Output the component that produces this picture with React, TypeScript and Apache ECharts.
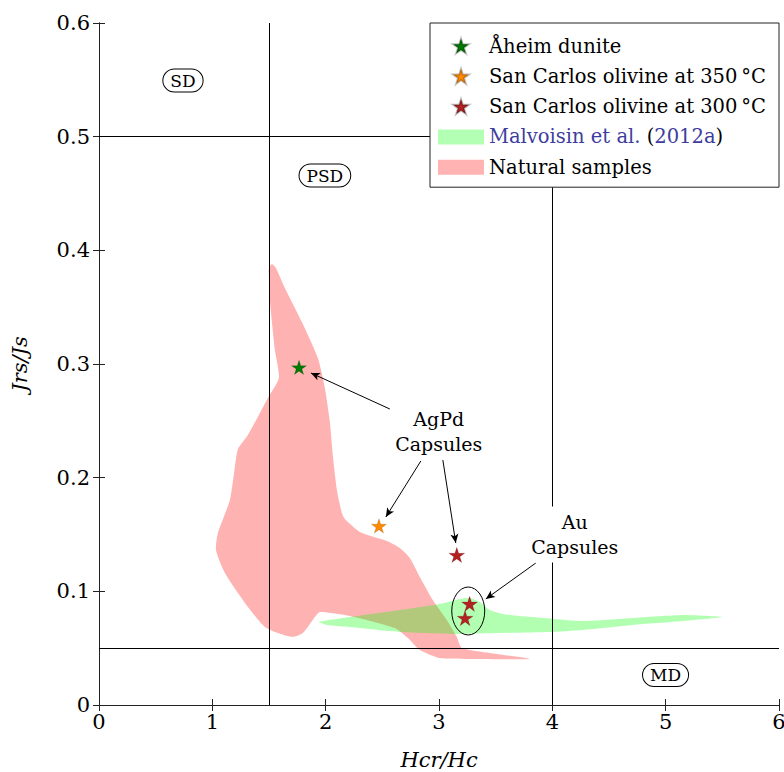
import React, { useEffect, useRef } from 'react';
import * as echarts from 'echarts';

const FONT = '"DejaVu Serif", "Liberation Serif", serif';
const STAR =
  'path://M0,-100L22.45,-30.9L95.1,-30.9L36.3,11.8L58.8,80.9L0,38.2L-58.8,80.9L-36.3,11.8L-95.1,-30.9L-22.45,-30.9Z';

// ---- data ----
const xTicks = [0, 1, 2, 3, 4, 5, 6];
const yTicks = [0, 0.1, 0.2, 0.3, 0.4, 0.5, 0.6];

const aheimPts = [[1.765, 0.297]];
const sc350Pts = [[2.47, 0.1575]];
const sc300Pts = [
  [3.157, 0.132],
  [3.27, 0.089],
  [3.23, 0.0765],
];

// Natural samples envelope (Hcr/Hc, Jrs/Js)
const pinkX = [
  1.526, 1.499, 1.508, 1.552, 1.587, 1.49, 1.314, 1.226, 1.199, 1.155, 1.049, 1.032, 1.111, 1.314,
  1.464, 1.578, 1.711, 1.799, 1.905, 1.949, 2.213, 2.61, 2.725, 2.831, 3.007, 3.36, 3.801, 3.448,
  3.201, 3.157, 3.069, 2.945, 2.831, 2.743, 2.654, 2.54, 2.302, 2.169, 2.143, 2.099, 2.063, 2.037,
  1.993, 1.931, 1.79, 1.64, 1.561,
];
const pinkY = [
  0.388, 0.3845, 0.3563, 0.3123, 0.2877, 0.2701, 0.2375, 0.2252, 0.2094, 0.1803, 0.1513, 0.1364,
  0.1161, 0.0862, 0.0686, 0.0633, 0.0598, 0.0633, 0.0774, 0.0818, 0.0783, 0.0677, 0.0589, 0.0484,
  0.0413, 0.0405, 0.0405, 0.0457, 0.0501, 0.0598, 0.0748, 0.0924, 0.1126, 0.1293, 0.1381, 0.1443,
  0.1522, 0.1636, 0.1689, 0.1891, 0.2199, 0.249, 0.2789, 0.3053, 0.3369, 0.3669, 0.3845,
];

// Malvoisin et al. (2012a) envelope
const greenX = [
  1.94, 2.213, 2.654, 3.007, 3.183, 3.272, 3.36, 3.448, 3.563, 3.827, 4.268, 4.709, 5.15, 5.503,
  5.15, 4.709, 4.268, 3.977, 3.536, 3.122, 2.654, 2.213, 2.011,
];
const greenY = [
  0.073, 0.0774, 0.0836, 0.0889, 0.0933, 0.0941, 0.0906, 0.0836, 0.0801, 0.0774, 0.0739, 0.0765,
  0.0792, 0.0774, 0.0739, 0.0704, 0.066, 0.0642, 0.0633, 0.0625, 0.0642, 0.0686, 0.0704,
];

// domain boundaries
const vLines = [1.5, 4];
const hLines = [0.5, 0.05];

// region labels
const regionNames = ['SD', 'PSD', 'MD'];
const regionPts = [
  [0.741, 0.5494],
  [1.993, 0.4658],
  [4.999, 0.0264],
];

// annotations
const noteTexts = ['AgPd\nCapsules', 'Au\nCapsules'];
const notePts = [
  [2.998, 0.2406],
  [4.198, 0.15],
];
const arrowFrom = [
  [2.566, 0.2604],
  [2.84, 0.2147],
  [3.034, 0.2155],
  [3.854, 0.1249],
];
const arrowTo = [
  [1.87, 0.2921],
  [2.531, 0.1654],
  [3.148, 0.1425],
  [3.413, 0.0933],
];
const ellipseCenter = [[3.258, 0.0827]];

const NAMES = [
  'Åheim dunite',
  'San Carlos olivine at 350\u2009°C',
  'San Carlos olivine at 300\u2009°C',
  'Malvoisin et al. (2012a)',
  'Natural samples',
];

const GREEN = '#007a00';
const ORANGE = '#ff8a00';
const RED = '#b22222';

export default function App() {
  const ref = useRef<HTMLDivElement>(null);
  useEffect(() => {
    if (!ref.current) return;
    const chart = echarts.init(ref.current, null, { renderer: 'svg', width: 784, height: 772 });

    const polygonSeries = (name: string, xs: number[], ys: number[], fill: string, z: number) => ({
      type: 'custom',
      name,
      z,
      silent: true,
      itemStyle: { color: fill },
      data: [[xs[0], ys[0]]],
      renderItem: (_p: any, api: any) => ({
        type: 'polygon',
        shape: {
          points: xs.map((x, i) => api.coord([x, ys[i]])),
          smooth: 0.2,
        },
        style: { fill },
      }),
    });

    const axisCommon = {
      type: 'value',
      axisLine: { show: true, lineStyle: { color: '#222', width: 1 } },
      axisTick: { show: true, inside: true, length: 6, lineStyle: { color: '#222' } },
      splitLine: { show: false },
    };

    const starSeries = (name: string, color: string, size: number, data: number[][]) => ({
      type: 'scatter',
      name,
      z: 5,
      symbol: STAR,
      symbolKeepAspect: true,
      symbolSize: size,
      itemStyle: { color, opacity: 1, borderColor: 'rgba(0,0,0,0.25)', borderWidth: 0.5 },
      emphasis: { disabled: true },
      data,
    });

    const option: any = {
      animation: false,
      backgroundColor: '#fff',
      textStyle: { fontFamily: FONT },
      grid: {
        left: 99,
        right: 5,
        top: 23,
        bottom: 67,
        containLabel: false,
        outerBoundsMode: 'none',
      },
      xAxis: [
        {
          ...axisCommon,
          min: xTicks[0],
          max: xTicks[xTicks.length - 1],
          interval: 1,
          name: 'Hcr/Hc',
          nameLocation: 'middle',
          nameGap: 44,
          nameTextStyle: { fontFamily: FONT, fontSize: 21, fontStyle: 'italic', color: '#000' },
          axisLabel: { fontFamily: FONT, fontSize: 21, color: '#000', margin: 6 },
        },
        {
          ...axisCommon,
          position: 'top',
          min: xTicks[0],
          max: xTicks[xTicks.length - 1],
          interval: 1,
          axisLabel: { show: false },
        },
      ],
      yAxis: [
        {
          ...axisCommon,
          min: yTicks[0],
          max: yTicks[yTicks.length - 1],
          interval: 0.1,
          name: 'Jrs/Js',
          nameLocation: 'middle',
          nameGap: 69,
          nameTextStyle: { fontFamily: FONT, fontSize: 21, fontStyle: 'italic', color: '#000' },
          axisLabel: { fontFamily: FONT, fontSize: 21, color: '#000', margin: 9 },
        },
        {
          ...axisCommon,
          position: 'right',
          min: yTicks[0],
          max: yTicks[yTicks.length - 1],
          interval: 0.1,
          axisLabel: { show: false },
        },
      ],
      legend: {
        right: 5,
        top: 23,
        orient: 'vertical',
        selectedMode: false,
        backgroundColor: '#fff',
        borderColor: '#222',
        borderWidth: 1,
        borderRadius: 0,
        padding: [13, 13, 10, 8],
        itemWidth: 46,
        itemHeight: 15,
        itemGap: 10.3,
        z: 20,
        textStyle: {
          fontFamily: FONT,
          fontSize: 19.5,
          color: '#000',
          lineHeight: 20,
          rich: { b: { fontFamily: FONT, fontSize: 19.5, color: '#3d3d9e', lineHeight: 20 } },
        },
        formatter: (n: string) =>
          n.startsWith('Malvoisin') ? '{b|Malvoisin et al.} ({b|2012a})' : n,
        data: [
          { name: NAMES[0], icon: STAR, itemStyle: { color: GREEN } },
          { name: NAMES[1], icon: STAR, itemStyle: { color: ORANGE } },
          { name: NAMES[2], icon: STAR, itemStyle: { color: RED } },
          { name: NAMES[3], icon: 'rect', itemStyle: { color: '#b3ffb3' } },
          { name: NAMES[4], icon: 'rect', itemStyle: { color: '#ffb3b3' } },
        ],
      },
      series: [
        polygonSeries(NAMES[4], pinkX, pinkY, 'rgba(255,0,0,0.3)', 1),
        polygonSeries(NAMES[3], greenX, greenY, 'rgba(0,255,0,0.3)', 2),
        {
          type: 'line',
          name: 'bounds',
          data: [],
          z: 3,
          markLine: {
            silent: true,
            symbol: ['none', 'none'],
            label: { show: false },
            emphasis: { disabled: true },
            lineStyle: { color: '#000', width: 1, type: 'solid', opacity: 1 },
            data: [
              ...vLines.map((v) => ({ xAxis: v })),
              ...hLines.map((v) => ({ yAxis: v })),
            ],
          },
        },
        {
          type: 'custom',
          name: 'ellipse',
          z: 4,
          silent: true,
          data: ellipseCenter,
          renderItem: (_p: any, api: any) => {
            const c = api.coord([api.value(0), api.value(1)]);
            const s = api.size([0.1455, 0.0211]);
            return {
              type: 'ellipse',
              shape: { cx: c[0], cy: c[1], rx: s[0], ry: s[1] },
              style: { fill: 'none', stroke: '#000', lineWidth: 1 },
            };
          },
        },
        starSeries(NAMES[0], GREEN, 15, aheimPts),
        starSeries(NAMES[1], ORANGE, 15, sc350Pts),
        starSeries(NAMES[2], RED, 16, sc300Pts),
        {
          type: 'scatter',
          name: 'regions',
          z: 6,
          silent: true,
          symbolSize: 1,
          itemStyle: { color: 'rgba(0,0,0,0)', opacity: 1 },
          label: {
            show: true,
            position: 'inside',
            formatter: (p: any) => regionNames[p.dataIndex],
            fontFamily: FONT,
            fontSize: 17,
            color: '#000',
            opacity: 1,
            borderColor: '#000',
            borderWidth: 1,
            borderRadius: 11,
            padding: [3, 7, 2, 7],
            backgroundColor: '#fff',
          },
          data: regionPts,
        },
        {
          type: 'scatter',
          name: 'notes',
          z: 7,
          silent: true,
          symbolSize: 1,
          itemStyle: { color: 'rgba(0,0,0,0)', opacity: 1 },
          label: {
            show: true,
            position: 'inside',
            formatter: (p: any) => noteTexts[p.dataIndex],
            fontFamily: FONT,
            fontSize: 19,
            lineHeight: 25,
            align: 'center',
            color: '#000',
            opacity: 1,
            backgroundColor: '#fff',
            padding: [3, 4],
          },
          data: notePts,
          markLine: {
            silent: true,
            symbol: ['none', 'arrow'],
            symbolSize: [6, 9],
            label: { show: false },
            emphasis: { disabled: true },
            lineStyle: { color: '#000', width: 1, type: 'solid', opacity: 1 },
            data: arrowFrom.map((f, i) => [{ coord: f }, { coord: arrowTo[i] }]),
          },
        },
      ],
    };
    chart.setOption(option);
    return () => chart.dispose();
  }, []);
  return (
    <div
      ref={ref}
      style={{ position: 'absolute', left: 0, top: 0, width: 784, height: 772 }}
    />
  );
}
